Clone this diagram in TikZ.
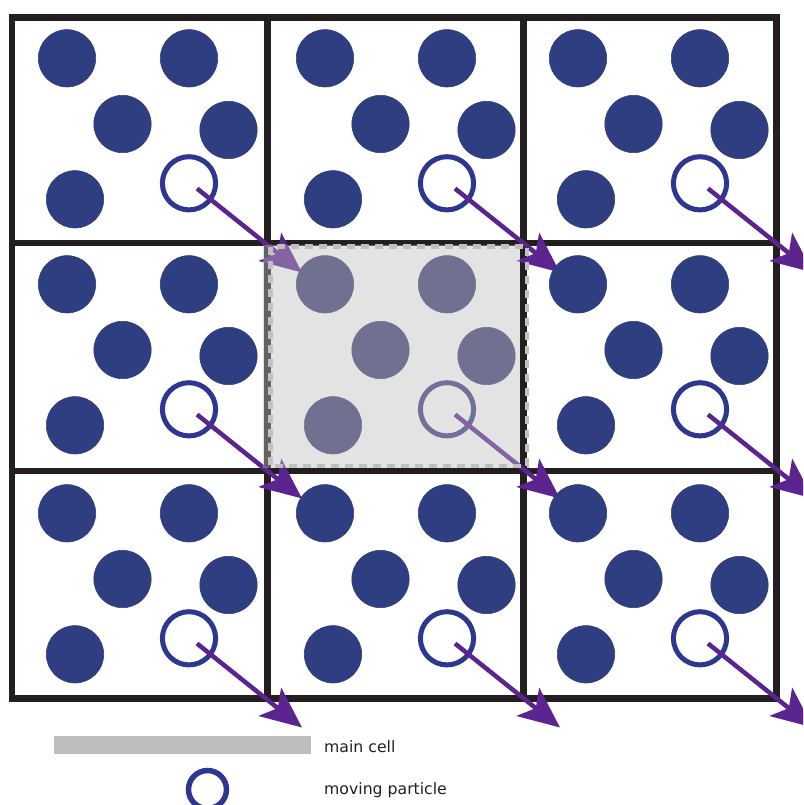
\documentclass[tikz,border=0pt]{standalone}
\usepackage{fontspec}
\setmainfont{DejaVu Sans}
\usetikzlibrary{arrows.meta}
\definecolor{particle}{HTML}{2E3E80}
\definecolor{particlemain}{HTML}{3A3A72}
\definecolor{ring}{HTML}{2E3790}
\definecolor{ringmain}{HTML}{3A3A80}
\definecolor{arrowpurple}{HTML}{5C2490}
\definecolor{wall}{HTML}{231F20}
\definecolor{cellgray}{HTML}{BDBDBD}
\definecolor{dashgray}{HTML}{C0C0C0}
\definecolor{labeltext}{HTML}{231F20}
\tikzset{
  particle/.style={fill=particle, draw=ring, line width=0.6pt},
  mover/.style={draw=ring, line width=5pt},
  jump/.style={draw=arrowpurple, line width=4.5pt,
    -{Stealth[length=41pt,width=36pt,inset=10pt]}},
  wallline/.style={draw=wall, line width=6.5pt},
  legendtext/.style={anchor=base west, text=labeltext,
    font=\fontsize{15.7}{18}\selectfont, inner sep=0pt},
}
\begin{document}
\begin{tikzpicture}[x=1pt,y=-1pt]
\useasboundingbox (0,0) rectangle (803,805);
\begin{scope}
  \clip (0,0) rectangle (803,805);
  % periodic images: cell walls
  \foreach \xa/\xb in {12/267.5, 267.5/523.5, 523.5/776.5}
    \foreach \ya/\yb in {17.3/243, 243/471, 471/698.5}
      \draw[wallline] (\xa,\ya) rectangle (\xb,\yb);
  % particles, repeated in every image (the main cell is the fifth)
  \foreach \dx/\dy [count=\i] in {0/0, 258/0, 511/0, 0/226, 258/226, 511/226,
                                 0/455, 258/455, 511/455} {
    \ifnum\i=5
      \colorlet{pfill}{particlemain}\colorlet{pring}{ringmain}%
    \else
      \colorlet{pfill}{particle}\colorlet{pring}{ring}%
    \fi
    \begin{scope}[shift={(\dx,\dy)}]
      \foreach \px/\py in {67/58.3, 189/58.3, 122.5/124, 228.5/130, 75/199.3}
        \path[particle, fill=pfill, draw=pfill] (\px,\py) circle[radius=28.7];
      \path[mover, draw=pring] (189,183.3) circle[radius=26.6];
      \coordinate (s\i) at (197,188.5);
      \coordinate (t\i) at (302,272.5);
      \draw[jump] (s\i) -- (t\i);
    \end{scope}
  }
  % main cell highlight
  \fill[cellgray, fill opacity=0.42] (263,245) rectangle (520,468);
  \draw[dashgray, line width=4.5pt, dash pattern=on 8pt off 6pt]
    (270.5,246.5) rectangle (527,466);
\end{scope}
% legend
\node[fill=cellgray, minimum width=257pt, minimum height=18pt, inner sep=0pt,
      anchor=north west] (barkey) at (54,736) {};
\node[circle, draw=ring, line width=5.5pt, minimum size=38pt, inner sep=0pt]
      (ringkey) at (207.5,789.5) {};
\node[legendtext] (maincell) at (324,752.7) {main cell};
\node[legendtext] (movingp) at (324,794.3) {moving particle};
\end{tikzpicture}
\end{document}
